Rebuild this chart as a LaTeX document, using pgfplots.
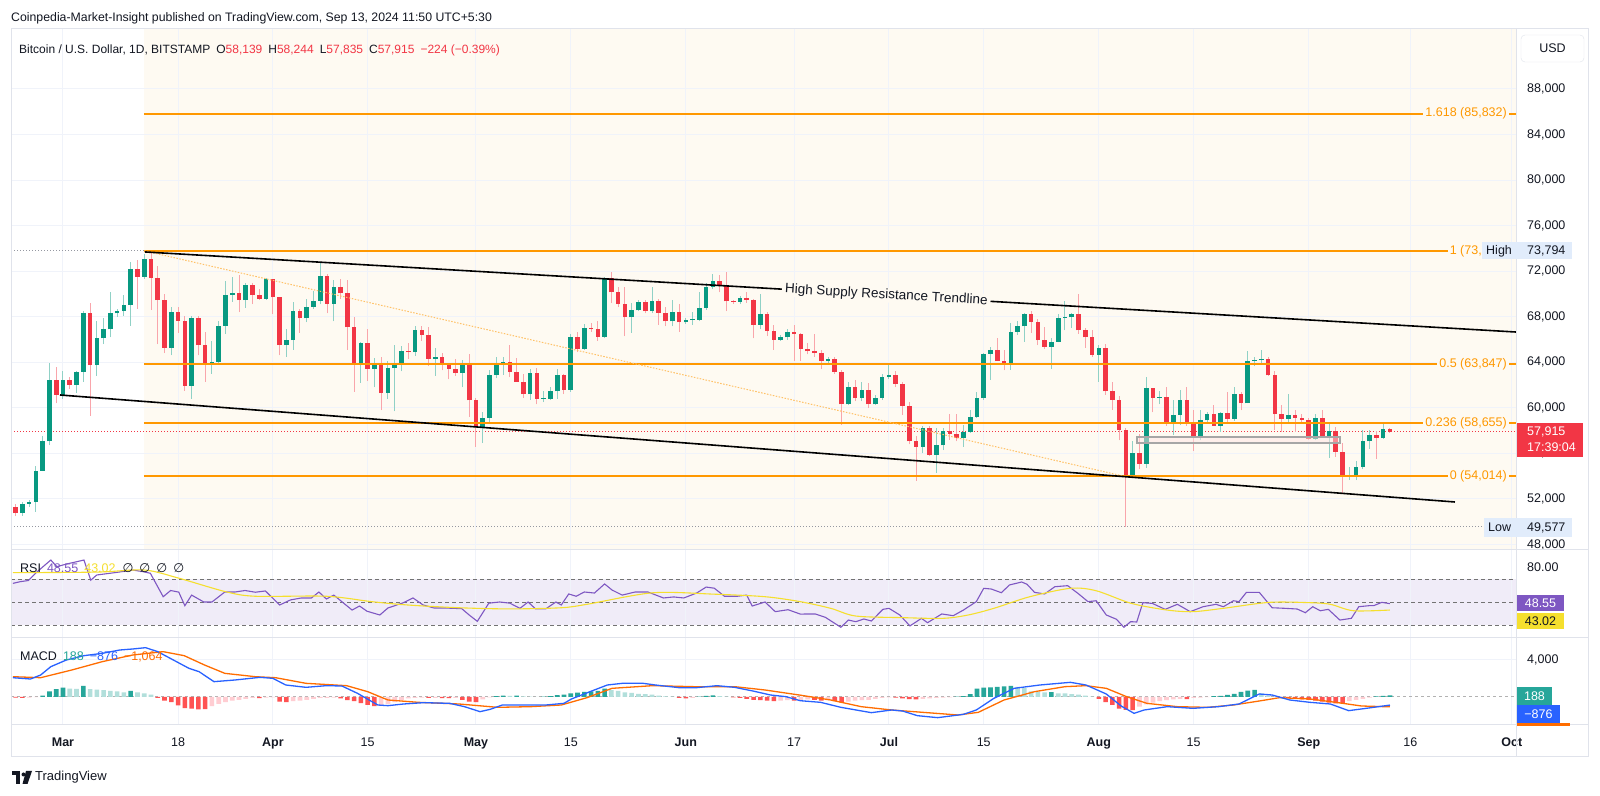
\documentclass[border=0pt]{standalone}
\usepackage{pgfplots}
\pgfplotsset{compat=1.18}
\usepackage{pgfplotstable}
\usepgfplotslibrary{fillbetween}
\usepackage{fontspec}
\setmainfont{Liberation Sans}
\newfontfamily\djv{DejaVu Sans}
\newcommand\fs[1]{\fontsize{#1bp}{#1bp}\selectfont}

\definecolor{tvtext}{HTML}{131722}
\definecolor{tvgreen}{HTML}{089981}
\definecolor{tvred}{HTML}{F23645}
\definecolor{fibc}{HTML}{FF9800}
\definecolor{cream}{HTML}{FEFAF2}
\definecolor{gridc}{HTML}{F0F3FA}
\definecolor{framec}{HTML}{E0E3EB}
\definecolor{rsic}{HTML}{7E57C2}
\definecolor{rsiband}{HTML}{F0ECF8}
\definecolor{rsima}{HTML}{F5DF2E}
\definecolor{macdc}{HTML}{2962FF}
\definecolor{sigc}{HTML}{FF6D00}
\definecolor{hg}{HTML}{26A69A}
\definecolor{hl}{HTML}{B2DFDB}
\definecolor{hr}{HTML}{FF5252}
\definecolor{hp}{HTML}{FFCDD2}
\definecolor{lblue}{HTML}{E1ECFB}
\definecolor{dotgray}{HTML}{9598A1}
\colorlet{wickg}{tvgreen!45!white}
\colorlet{wickr}{tvred!45!white}

% daily candles, day 0 = 1 Mar 2024 -- rising days
\pgfplotstableread{
d o h l c
-6 50750 51700 50550 51570
-5 51570 51950 51300 51730
-4 51730 54900 50900 54500
-3 54500 57550 54450 57050
-2 57050 63900 56700 62450
0 61150 63200 60800 62450
2 62050 63200 61300 63150
3 63150 68500 62300 68300
5 63750 67600 62800 66100
6 66100 67900 65600 66900
7 66900 70200 66200 68300
8 68300 68700 68000 68500
9 68500 69950 68100 69050
10 69050 72850 67200 72150
12 71500 73500 71350 73100
16 65300 68900 64600 68400
19 61950 68100 60800 67850
22 63800 65900 63000 64050
23 64050 67600 63800 67200
24 67200 71100 66500 69950
25 69950 71500 69300 70050
27 69450 71000 68800 70800
30 69600 71400 69500 71300
33 65500 66900 64500 65950
34 65950 69300 65100 68500
36 67850 69600 67500 68900
37 68900 70300 68700 69400
38 69400 72750 69100 71600
40 69150 71200 67600 70650
44 63950 65800 62200 65700
46 63450 64400 61800 63800
48 61300 64100 60800 63500
49 63500 65500 59700 63800
50 63800 65400 63200 64950
52 64900 67200 64550 66800
55 64300 65300 62800 64500
59 63100 64200 61800 63850
62 58300 59600 56900 59100
63 59100 63300 58800 62900
64 62900 64500 62600 63900
65 63900 64500 62900 64000
69 61200 63400 60700 63100
71 60800 61500 60500 60800
72 60800 61800 60700 61450
73 61450 63400 60800 62900
75 61600 66450 61400 66250
77 65200 67400 65100 67050
80 66250 71500 66100 71400
84 67950 69200 66600 68550
85 68550 69500 68500 69300
87 68500 70650 68300 69400
90 67600 69500 67150 68400
92 67500 67850 67400 67750
93 67750 68400 67300 67750
94 67750 70200 67600 68800
95 68800 71000 68600 70600
96 70600 71750 70400 71100
100 69300 69850 69150 69650
103 67300 70000 66900 68250
106 66000 66400 65900 66200
107 66200 66950 66000 66650
113 64100 64500 63950 64250
116 60300 62300 60250 61800
118 60850 62300 60600 61600
120 60300 61150 60250 60900
121 60900 63000 60700 62700
122 62700 63800 62500 62850
127 56600 58450 56000 58200
129 55900 58200 54300 56700
130 56700 58250 56300 58000
133 57350 58500 56600 57900
134 57900 59850 57800 59200
135 59200 61400 59150 60850
136 60850 64850 60700 64750
137 64750 65350 62450 65100
140 63950 67450 63350 66700
141 66700 67600 66400 67150
142 67150 68350 65800 68200
146 65350 66150 63450 65800
147 65800 68200 65750 67900
148 67900 69400 66800 67950
149 67950 68300 67050 68250
153 64650 65550 62300 65300
158 54050 57050 54050 56050
160 55100 62750 54750 61750
162 60900 61450 60300 60950
164 58750 60700 57650 59400
165 59400 61600 58500 60650
168 57550 59800 57150 58900
169 58900 59650 58800 59500
171 58450 59650 57900 59550
173 59050 61800 58850 61200
175 60400 64950 60400 64100
176 64100 64500 63650 64200
177 64200 65050 63800 64250
181 59050 61200 58800 59400
185 57300 59450 57150 59100
187 57500 58550 55600 57950
190 53950 54850 53700 54150
191 54150 55300 53650 54850
192 54850 58100 54600 57050
193 57050 58050 56400 57650
195 57350 58600 57300 58150
}\upc

% falling days
\pgfplotstableread{
d o h l c
-7 51300 51550 50500 50750
-1 62450 63600 60400 61150
1 62450 62700 61700 62050
4 68300 69200 59300 63750
11 72150 73000 68700 71500
13 73100 73794 68600 71400
14 71400 72500 65600 69450
15 69450 70000 64800 65300
17 68400 68900 66600 67650
18 67650 68100 61500 61950
20 67850 68100 64600 65500
21 65500 66700 62300 63800
26 70050 71700 68400 69450
28 70800 70950 69100 69900
29 69900 70400 69500 69600
31 71300 71300 68200 69700
32 69700 69700 64600 65500
35 68500 68700 66600 67850
39 71600 71750 68300 69150
41 70650 71300 69600 70050
42 70050 71200 65100 67100
43 67100 68000 61400 63950
45 65700 66900 62400 63450
47 63800 64500 59800 61300
51 64950 65700 64300 64900
53 66800 67200 65900 66400
54 66400 67100 63700 64300
56 64500 64800 63300 63800
57 63800 63900 62500 63450
58 63450 64300 62800 63100
60 63850 64700 59200 60650
61 60650 60850 56600 58300
66 64000 65500 62700 63150
67 63150 64400 62300 62300
68 62300 63000 60900 61200
70 63100 63500 60300 60800
74 62900 63000 61200 61600
76 66250 66700 64900 65200
78 67050 67450 66700 66950
79 66950 67650 65900 66250
81 71400 71950 69200 70150
82 70150 70600 68850 69100
83 69100 70600 66300 67950
86 69300 69500 68300 68500
88 69400 69550 67300 68350
89 68350 68900 67150 67600
91 68400 69100 66700 67500
97 71100 71650 70150 70750
98 70750 71950 68500 69350
99 69350 69500 69150 69300
101 69650 70150 69250 69500
102 69500 69550 66100 67300
104 68250 68450 66300 66750
105 66750 67300 65100 66000
108 66650 67250 64100 66500
109 66500 66550 64100 65150
110 65150 65700 64700 64950
111 64950 66450 64500 64850
112 64850 65050 63400 64100
114 64250 64500 63000 63150
115 63150 63350 58500 60300
117 61800 62450 60600 60850
119 61600 62150 60000 60300
123 62850 63200 61800 62100
124 62100 62250 59400 60200
125 60200 60500 56800 57050
126 57050 57500 53600 56600
128 58200 58450 55800 55900
131 58000 59450 57200 57750
132 57750 59450 57050 57350
138 65100 66100 64100 64100
139 64100 65100 63300 63950
143 68200 68500 66600 67550
144 67550 67800 65500 65950
145 65950 67100 65150 65350
150 68250 70000 66500 66800
151 66800 67000 65300 66200
152 66200 66850 64500 64650
154 65300 65600 61150 61450
155 61450 62300 59850 60700
156 60700 61050 57150 58100
157 58100 58250 49577 54050
159 56050 57700 54600 55100
161 61750 61750 59600 60900
163 60950 61850 58450 58750
166 60650 61800 58450 58750
167 58750 59850 56200 57550
170 59500 60250 58400 58450
172 59550 61400 58700 59050
174 61200 61400 59800 60400
178 64250 64500 62800 62850
179 62850 63250 58100 59450
180 59450 60250 57850 59050
182 59400 59800 57900 59150
183 59150 59450 58800 58950
184 58950 59100 57200 57300
186 59100 59800 57450 57500
188 57950 58300 55700 56150
189 56150 56950 52550 53950
194 57650 58000 55550 57350
196 58139 58244 57835 57915
}\dnc

\newcommand\vgrid[2]{% vertical date grid from #1 to #2
  \pgfplotsinvokeforeach{0,17,31,45,61,75,92,108,122,136,153,167,184,199,214}{
    \draw[gridc, line width=1bp] (axis cs:##1,#1) -- (axis cs:##1,#2);}}

\pgfplotsset{
  tvpanel/.style={
    scale only axis, width=1505bp, anchor=south west,
    xmin=-7.68, xmax=214.62, scaled ticks=false,
    axis line style={draw=none}, major tick length=0pt,
    xtick={0,17,31,45,61,75,92,108,122,136,153,167,184,199,214},
    xticklabels={},
    yticklabel pos=right,
    yticklabel style={anchor=west, inner sep=0pt, xshift=11bp, font=\fs{12.5}, text=tvtext},
  },
  candle/.style 2 args={draw=none, mark=none, error bars/.cd, y dir=plus, y explicit, error mark=none,
    error bar style={line width=#1, draw=#2, solid}},
}

\begin{document}
\begin{tikzpicture}
\fill[white] (0bp,0bp) rectangle (1600bp,796bp);

% ---------- price panel ----------
\begin{axis}[tvpanel, at={(11bp,246bp)}, height=521bp,
  ymin=47522, ymax=93266,
  ytick={48000,52000,56000,60000,64000,68000,72000,76000,80000,84000,88000},
  yticklabels={{48,000},{52,000},{56,000},{60,000},{64,000},{68,000},{72,000},{76,000},{80,000},{84,000},{88,000}}]
\fill[cream] (axis cs:11.96,47522) rectangle (axis cs:214.62,93266);
\vgrid{47522}{93266}
\pgfplotsinvokeforeach{48000,52000,56000,60000,64000,68000,72000,76000,80000,84000,88000}{\draw[gridc, line width=1bp] (axis cs:-7.68,#1) -- (axis cs:214.62,#1);}
\addplot[dotgray, line width=1bp, dash pattern=on 1bp off 2bp] coordinates {(-7.68,73794) (214.62,73794)};
\addplot[dotgray, line width=1bp, dash pattern=on 1bp off 2bp] coordinates {(-7.68,49577) (214.62,49577)};
\addplot[tvred, line width=1bp, dash pattern=on 1bp off 2bp] coordinates {(-7.68,57915) (214.62,57915)};
% wicks
\addplot[candle={1bp}{wickg}] table[x=d, y=l, y error plus expr=\thisrow{h}-\thisrow{l}] {\upc};
\addplot[candle={1bp}{wickr}] table[x=d, y=l, y error plus expr=\thisrow{h}-\thisrow{l}] {\dnc};
% bodies
\addplot[candle={4.6bp}{tvgreen}] table[x=d, y=o, y error plus expr={max(\thisrow{c}-\thisrow{o},90)}] {\upc};
\addplot[candle={4.6bp}{tvred}] table[x=d, y=c, y error plus expr={max(\thisrow{o}-\thisrow{c},90)}] {\dnc};
% fib levels
\addplot[fibc, line width=2bp] coordinates {(11.96,85832) (214.62,85832)};
\addplot[fibc, line width=2bp] coordinates {(11.96,73794) (214.62,73794)};
\addplot[fibc, line width=2bp] coordinates {(11.96,63847) (214.62,63847)};
\addplot[fibc, line width=2bp] coordinates {(11.96,58655) (214.62,58655)};
\addplot[fibc, line width=2bp] coordinates {(11.96,54014) (214.62,54014)};
\addplot[fibc!60, line width=1bp, dash pattern=on 1.5bp off 1.5bp] coordinates {(12.0,73794) (156.6,54014)};
% trendlines
\addplot[black, line width=1.6bp] coordinates {(12.1,73690) (214.62,66660)};
\addplot[black, line width=1.6bp] coordinates {(-0.44,61131) (205.6,51737)};
\draw[draw=gray!70, line width=1.5bp, fill=red!10, fill opacity=0.5] (axis cs:158.6,57444) rectangle (axis cs:188.6,56917);
\node[rotate=-3.34, fill=cream, inner xsep=3bp, inner ysep=1bp, font=\fs{13.5}, text=tvtext] at (axis cs:121.6,69889) {High Supply Resistance Trendline};
\end{axis}

% ---------- RSI panel ----------
\begin{axis}[tvpanel, at={(11bp,158bp)}, height=88bp,
  ymin=18.70, ymax=95.22, ytick={80}, yticklabels={80.00}]
\fill[rsiband] (axis cs:-7.68,30) rectangle (axis cs:214.62,70);
\vgrid{18.7}{95.22}
\addplot[name path=r70, gray!90!black, line width=1bp, dash pattern=on 4bp off 3bp] coordinates {(-7.68,70) (214.62,70)};
\addplot[gray!90!black, line width=1bp, dash pattern=on 4bp off 3bp] coordinates {(-7.68,50) (214.62,50)};
\addplot[name path=r30, gray!90!black, line width=1bp, dash pattern=on 4bp off 3bp] coordinates {(-7.68,30) (214.62,30)};
\addplot[name path=rsi, rsic, line width=1.1bp] coordinates {
(-7.4,66.2) (-6.3,67.7) (-5.1,68.7) (-3.8,76.4) (-1.8,86.5) (-0.9,80.7) (0.5,83) (2,85) (3.1,86.5)
(4.1,69) (5,73.5) (8,75.8) (10.3,77.8) (11.8,76.4) (12.9,75) (14.8,54.6) (15.9,60) (17.1,58.6)
(18,46.8) (19,56) (20.8,50) (22,50) (23.9,58.7) (25.4,58.7) (26.9,60) (28.4,58.5) (29.9,59.6)
(32,47.4) (33.6,51.8) (35.2,53.5) (36.7,53.5) (37.8,58.7) (38.9,52.6) (40,56) (42.7,43) (43.8,46.5)
(44.9,42) (46.8,38.7) (48,44.8) (50.2,49.2) (51.7,53.5) (53.2,47.4) (54.8,44.8) (56.3,44.8) (58.9,44.2)
(60,38.7) (61.2,33.2) (62.9,49) (64.5,50) (66,49) (67.5,44.5) (68.7,50) (69.8,44) (71.3,44) (72.8,50)
(73.6,47.4) (74.7,57) (75.8,55) (77,58.7) (78.5,57.8) (80,65.7) (81.1,60.4) (82.6,56) (84.5,58.7)
(86.4,58.7) (88.7,53.5) (90.2,54.4) (91.7,53.5) (93.6,57.8) (95,63) (96.2,62) (97.7,55) (99.6,55)
(101,56) (101.8,46.5) (103.7,50) (105.2,41.6) (107.1,43.3) (108.9,39.5) (111.1,39.6) (112.6,36.7)
(114.9,28) (116,34.3) (117.1,32.9) (118.3,35.2) (119.4,33.5) (121.1,43.6) (122,44.5) (123.6,38.7)
(125.1,29.2) (126.8,35.8) (127.7,32) (129.8,39.6) (131.5,38.1) (133,43) (134.9,50.3) (136,61.9)
(137.1,61.3) (138.6,58.1) (139.8,64.8) (141.6,67.4) (142.4,65.4) (143.5,58.4) (145,57) (146.5,63.3)
(148.4,64.2) (149.9,57.6) (151.4,50.3) (152.6,51.1) (154.1,38.7) (155.6,35) (156.7,28) (157.7,32.9)
(158.6,32.6) (159.5,49.4) (160.9,48.8) (162.8,43.6) (164.6,48) (166.5,41.6) (168.4,45.9) (170.3,48)
(171.4,45.9) (172.9,51.1) (173.7,50.3) (174.8,58.4) (176.7,58.4) (178.6,45) (180.5,44.5) (182.3,43.9)
(183.5,40.7) (184.6,45.9) (185.7,42.4) (186.9,43.6) (188.6,34.3) (190.3,35.8) (191.4,45.9) (192.9,46.8)
(193.6,46.8) (194.8,49.7) (196,48.55)};
\addplot[fill={rgb,255:red,200;green,232;blue,204}] fill between[of=rsi and r70, soft clip={(axis cs:-8,70) rectangle (axis cs:215,100)}];
\addplot[fill={rgb,255:red,252;green,212;blue,216}] fill between[of=rsi and r30, soft clip={(axis cs:-8,0) rectangle (axis cs:215,30)}];
\addplot[rsima, line width=1.1bp, smooth] coordinates {
(-7.4,75.5) (5,76) (12,77.8) (17,70.9) (24,59) (28.4,55) (38.9,55) (45.6,50.3) (50.9,47.4) (58.5,45)
(66,44) (73.6,45) (77.4,48) (87.1,58) (96.2,56.8) (103.7,54.6) (108.9,50.3) (113.4,44.5) (117.1,37.8)
(124,36.4) (130,35.8) (133.7,38.7) (137.5,44.5) (142.8,54.6) (148.8,61.9) (152.6,59.8) (157.8,48.8)
(163.1,43) (166.9,41.6) (171.4,44.5) (178.2,49.7) (184.2,49.4) (187.2,48) (190.6,42.4) (196,43.02)};
\end{axis}

% ---------- MACD panel ----------
\begin{axis}[tvpanel, at={(11bp,71bp)}, height=87bp,
  ymin=-3027, ymax=6378, ytick={4000}, yticklabels={4{,}000},
  xticklabels={\textbf{Mar},18,\textbf{Apr},15,\textbf{May},15,\textbf{Jun},17,\textbf{Jul},15,\textbf{Aug},15,\textbf{Sep},16,\textbf{Oct}},
  xticklabel style={anchor=base, inner sep=0pt, yshift=-22bp, font=\fs{12.5}, text=tvtext}]
\vgrid{-3027}{6378}
\draw[gridc, line width=1bp] (axis cs:-7.68,4000) -- (axis cs:214.62,4000);
\addplot[gray!60, line width=1bp, dash pattern=on 3bp off 3bp] coordinates {(-7.68,0) (214.62,0)};
\addplot[ybar, bar width=4.6bp, bar shift=0pt, fill=hg, draw=none] coordinates {
(-3,150) (-2,600) (-1,850) (0,1000) (3,1200) (10,650) (64,100) (65,150) (67,150) (71,30) (72,100)
(73,200) (74,250) (75,400) (76,480) (77,550) (78,620) (79,650) (80,900) (94,50) (95,120) (96,180)
(132,30) (133,100) (134,300) (135,900) (136,1000) (137,1050) (138,1100) (139,1150) (140,1190) (146,520)
(170,100) (171,110) (172,220) (173,330) (174,560) (175,700) (176,760) (194,60) (195,130) (196,188)};
\addplot[ybar, bar width=4.6bp, bar shift=0pt, fill=hl, draw=none] coordinates {
(1,900) (2,880) (4,850) (5,800) (6,750) (7,650) (8,600) (9,500) (11,500) (12,400) (13,250) (66,120)
(68,80) (69,40) (70,20) (81,750) (82,650) (83,500) (84,450) (85,350) (86,300) (87,250) (88,150) (89,80)
(90,50) (97,100) (98,40) (141,1100) (142,950) (143,600) (144,580) (145,500) (147,400) (148,380) (149,300)
(150,250) (151,150) (152,30) (177,400) (178,150) (179,20)};
\addplot[ybar, bar width=4.6bp, bar shift=0pt, fill=hr, draw=none] coordinates {
(-7,-80) (-6,-90) (14,-100) (15,-400) (16,-550) (17,-900) (18,-1200) (19,-1250) (20,-1350) (21,-1300)
(29,-120) (32,-500) (33,-550) (41,-150) (42,-350) (43,-450) (44,-650) (45,-850) (46,-1000) (54,-100)
(56,-120) (57,-130) (59,-300) (60,-500) (61,-550) (91,-100) (92,-150) (99,-50) (100,-100) (101,-200)
(102,-300) (103,-350) (104,-400) (105,-450) (108,-380) (111,-300) (112,-400) (114,-450) (115,-600)
(123,-60) (124,-150) (125,-220) (126,-250) (153,-200) (154,-550) (155,-850) (156,-1250) (157,-1400)
(158,-1420) (166,-230) (180,-40) (181,-100) (182,-150) (183,-250) (184,-300) (185,-400) (186,-500)
(187,-600) (188,-680) (189,-720)};
\addplot[ybar, bar width=4.6bp, bar shift=0pt, fill=hp, draw=none] coordinates {
(-5,-60) (-4,-20) (22,-1000) (23,-750) (24,-550) (25,-400) (26,-300) (27,-200) (28,-100) (30,-60)
(31,-50) (34,-450) (35,-400) (36,-300) (37,-200) (38,-100) (39,-90) (40,-80) (47,-900) (48,-750)
(49,-550) (50,-300) (51,-150) (52,-100) (53,-80) (55,-90) (58,-100) (62,-250) (63,-30) (93,-100)
(106,-400) (107,-350) (109,-350) (110,-250) (113,-350) (116,-500) (117,-400) (118,-350) (119,-300)
(120,-200) (121,-100) (122,-50) (127,-200) (128,-150) (129,-100) (130,-60) (131,-30) (159,-1050)
(160,-800) (161,-600) (162,-450) (163,-350) (164,-250) (165,-200) (167,-100) (168,-80) (169,-20)
(190,-450) (191,-300) (192,-200) (193,-80)};
\addplot[sigc, line width=1.3bp] coordinates {
(-7.4,2195) (-3.3,2087) (1.3,2919) (5.8,3820) (10.3,4540) (14.8,4900) (17.9,4468) (20.9,3460)
(23.9,2558) (28.4,2195) (31.4,2087) (35.9,1477) (41.9,1225) (45,577) (48,-324) (52.5,-577) (58.5,-757)
(64.2,-1117) (69.1,-1045) (73.6,-865) (77.4,-72) (81.1,937) (87.1,1225) (93.2,1117) (99.2,1117)
(103.7,757) (108.9,200) (113.4,-324) (117.9,-1045) (122.4,-1405) (127,-1658) (132.2,-1946)
(135.2,-1658) (139,-324) (143.5,577) (148,1117) (151.1,1225) (154.1,937) (157.1,36) (160.1,-685)
(164.6,-1045) (169.1,-1117) (172.9,-865) (176.7,-432) (179.7,-72) (184.2,-216) (188,-577) (191.8,-973)
(196,-1064)};
\addplot[macdc, line width=1.3bp] coordinates {
(-7.4,2087) (-4.8,1946) (-3.3,2378) (-1.8,3279) (0.5,4000) (3.1,4468) (5.8,4720) (8.4,5081) (10.3,5190)
(12.2,5333) (14,4900) (16.3,4000) (18.6,3100) (20.1,2738) (22.3,1658) (25.4,1838) (29.1,2126) (31,2018)
(32.9,1297) (35.9,1045) (38.9,1225) (41.2,1189) (43.5,396) (46.5,-865) (48,-937) (50.3,-757) (53.3,-612)
(57.1,-685) (59.3,-1045) (61.6,-1586) (63.1,-1333) (64.9,-865) (68.3,-865) (71.3,-865) (74,-685)
(75.1,-216) (78.1,649) (80.4,1297) (82.6,1477) (85.7,1477) (87.5,1297) (91,1009) (93.6,1009) (96.6,1225)
(99.2,1045) (101.9,649) (104.5,216) (106.8,36) (108.9,-400) (111.9,-577) (114.9,-1117) (119.4,-1694)
(122.4,-1405) (124,-1513) (126.2,-2018) (129.2,-2234) (133,-1874) (134.9,-1405) (137.5,-144) (140.5,937)
(144.3,1297) (148.8,1586) (151.1,1297) (154.1,324) (156.3,-973) (158.2,-1766) (159.7,-1405) (163.1,-1045)
(166.9,-1225) (170.7,-1045) (173.7,-757) (176.7,324) (178.6,216) (181.2,-324) (184.2,-577) (187.2,-757)
(189.9,-1477) (192.5,-1225) (196,-876)};
\end{axis}

\begin{scope}[x=1bp, y=1bp]
% ---------- frame ----------
\draw[framec, line width=1bp] (11,39) rectangle (1588,767);
\draw[framec, line width=1bp] (11,246) -- (1588,246);
\draw[framec, line width=1bp] (11,158) -- (1588,158);
\draw[framec, line width=1bp] (11,71) -- (1588,71);
\draw[framec, line width=1bp] (1516,39) -- (1516,767);

% ---------- texts ----------
\node[anchor=west, inner sep=0pt, font=\fs{12.3}, text=tvtext] at (11,778)
  {Coinpedia-Market-Insight published on TradingView.com, Sep 13, 2024 11:50 UTC+5:30};
\node[anchor=west, inner sep=0pt, font=\fs{12}, text=tvtext] at (19,746)
  {Bitcoin / U.S. Dollar, 1D, BITSTAMP\hspace{6bp}O\textcolor{tvred}{58,139}\hspace{6bp}H\textcolor{tvred}{58,244}\hspace{6bp}L\textcolor{tvred}{57,835}\hspace{6bp}C\textcolor{tvred}{57,915}\hspace{6bp}\textcolor{tvred}{−224 (−0.39\%)}};
\node[anchor=west, inner sep=0pt, font=\fs{12.5}, text=tvtext] at (20,228)
  {RSI\hspace{6bp}\textcolor{rsic}{48.55}\hspace{6bp}\textcolor{rsima}{43.02}\hspace{7bp}{\djv ∅\hspace{6bp}∅\hspace{6bp}∅\hspace{6bp}∅}};
\node[anchor=west, inner sep=0pt, font=\fs{12.5}, text=tvtext] at (20,139)
  {MACD\hspace{6bp}\textcolor{hg}{188}\hspace{6bp}\textcolor{macdc}{−876}\hspace{6bp}\textcolor{sigc}{−1,064}};

% fib labels
\foreach \yy/\tt in {682.3/{1.618 (85,832)}, 545.2/{1 (73,794)}, 431.9/{0.5 (63,847)}, 372.8/{0.236 (58,655)}, 319.9/{0 (54,014)}}
  \node[anchor=east, fill=cream, inner xsep=2bp, inner ysep=1bp, font=\fs{12.5}, text=fibc] at (1509,\yy) {\tt};

% right scale boxes
\draw[framec, fill=white, rounded corners=4bp] (1521,734) rectangle (1584,761);
\node[font=\fs{12.5}, text=tvtext] at (1552.5,747.5) {USD};
\fill[lblue] (1482,536.7) rectangle (1572,553.7);
\node[anchor=west, inner sep=0pt, font=\fs{12.5}, text=tvtext] at (1486,545.2) {High};
\node[anchor=west, inner sep=0pt, font=\fs{12.5}, text=tvtext] at (1527,545.2) {73,794};
\fill[lblue] (1484,259) rectangle (1572,278);
\node[anchor=west, inner sep=0pt, font=\fs{12.5}, text=tvtext] at (1488,268.5) {Low};
\node[anchor=west, inner sep=0pt, font=\fs{12.5}, text=tvtext] at (1527,268.5) {49,577};
\fill[tvred] (1517,339) rectangle (1583,373);
\node[anchor=west, inner sep=0pt, font=\fs{12.5}, text=white] at (1527,364) {57,915};
\node[anchor=west, inner sep=0pt, font=\fs{12.5}, text=white] at (1527,348.5) {17:39:04};
\fill[rsic] (1517,185) rectangle (1564,201);
\node[font=\fs{12.5}, text=white] at (1540.5,193) {48.55};
\fill[rsima] (1517,167) rectangle (1564,183);
\node[font=\fs{12.5}, text=tvtext] at (1540.5,175) {43.02};
\fill[hg] (1517,91) rectangle (1552,109);
\node[font=\fs{12.5}, text=white] at (1534.5,100) {188};
\fill[macdc] (1517,73) rectangle (1560,91);
\node[font=\fs{12.5}, text=white] at (1538.5,82) {−876};
\fill[sigc] (1517,70) rectangle (1570,73);

% logo
\fill[tvtext] (12,21) rectangle (20,25);
\fill[tvtext] (16,12) rectangle (20,25);
\fill[tvtext] (23.5,21.5) circle (2);
\fill[tvtext] (26,25) -- (32,25) -- (27.5,12) -- (22.5,12) -- cycle;
\node[anchor=west, inner sep=0pt, font=\fs{13}, text=tvtext] at (35,18.5) {TradingView};
\end{scope}
\end{tikzpicture}
\end{document}
